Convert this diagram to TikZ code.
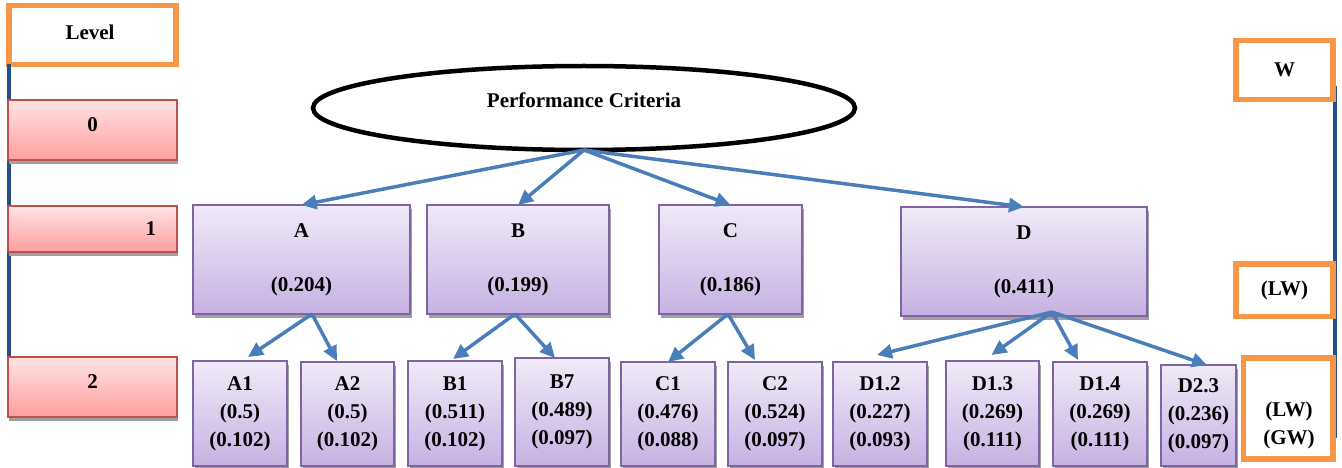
\documentclass[tikz,border=0pt]{standalone}
\usepackage{fontspec}
\setmainfont{Liberation Serif}
\usetikzlibrary{shapes.geometric,arrows.meta,shadows}
\definecolor{orng}{HTML}{F79646}
\definecolor{redb}{HTML}{C0504D}
\definecolor{redt}{HTML}{FFE3E3}
\definecolor{redbot}{HTML}{FF9E9E}
\definecolor{purb}{HTML}{8064A2}
\definecolor{purt}{HTML}{F0EAF8}
\definecolor{purbot}{HTML}{C6B1E2}
\definecolor{arrblue}{HTML}{4A7EBB}
\definecolor{navy}{HTML}{254F86}
\definecolor{shad}{HTML}{A0A0A0}
\tikzset{
  txt/.style={font=\bfseries\fontsize{21}{28}\selectfont},
  redbox/.style={txt, draw=redb, line width=1.5pt, top color=redt, bottom color=redbot,
    minimum width=169pt, inner sep=0pt, outer sep=0pt, anchor=north west,
    drop shadow={shadow xshift=1pt, shadow yshift=-4pt, fill=shad, opacity=1}},
  purbox/.style={txt, draw=purb, line width=1.8pt, top color=purt, bottom color=purbot,
    inner sep=0pt, outer sep=0pt, anchor=north west, align=center,
    drop shadow={shadow xshift=1.5pt, shadow yshift=-3.5pt, fill=shad, opacity=1}},
  orbox/.style={txt, draw=orng, line width=5.5pt, fill=white, inner sep=0pt,
    outer sep=0pt, anchor=north west, align=center},
  arr/.style={draw=arrblue, line width=3.5pt, -{Triangle[length=15pt,width=14pt]}},
  navyline/.style={draw=navy, line width=3.5pt},
}
\begin{document}
\begin{tikzpicture}[x=1pt,y=-1pt]
\useasboundingbox (0,0) rectangle (1342,468);
% right vertical line
\coordinate (rtop) at (1335,86);
\coordinate (rbot) at (1335,438);
\draw[navyline] (rtop) -- (rbot);
% level column
\node[orbox, minimum width=167pt, minimum height=59pt] (lvl) at (9,5.5) {};
\node[txt] (lvlt) at (90,32) {Level};
\draw[navyline] (lvl.south west) -- (lvl.south west |- 0,417);
\node[redbox, minimum height=60pt] (r0) at (8,100) {\raisebox{10pt}{0}};
\node[redbox, minimum height=46pt, text width=127pt, align=right, inner xsep=21pt] (r1) at (8,206) {1};
\node[redbox, minimum height=60pt] (r2) at (8,357) {\raisebox{10pt}{2}};
% root
\node[draw=black, line width=4.5pt, ellipse, fill=white, minimum width=542pt, minimum height=84pt,
  inner sep=0pt, outer sep=0pt, txt] (pc) at (584,108) {\raisebox{16pt}{Performance Criteria}};
% level 1
\node[purbox, minimum width=217pt, minimum height=109pt] (A) at (193,205) {A\\[26pt](0.204)};
\node[purbox, minimum width=182pt, minimum height=109pt] (B) at (427,205) {B\\[26pt](0.199)};
\node[purbox, minimum width=143pt, minimum height=109pt] (C) at (659,205) {C\\[26pt](0.186)};
\node[purbox, minimum width=246pt, minimum height=109pt] (D) at (901,207) {D\\[26pt](0.411)};
% level 2
\node[purbox, minimum width=94pt, minimum height=105pt] (A1) at (193,361) {A1\\(0.5)\\(0.102)};
\node[purbox, minimum width=93pt, minimum height=104pt] (A2) at (301,362) {A2\\(0.5)\\(0.102)};
\node[purbox, minimum width=94pt, minimum height=105pt] (B1) at (408,361) {B1\\(0.511)\\(0.102)};
\node[purbox, minimum width=94pt, minimum height=108pt] (B7) at (515,358) {B7\\(0.489)\\(0.097)};
\node[purbox, minimum width=94pt, minimum height=104pt] (C1) at (621,362) {C1\\(0.476)\\(0.088)};
\node[purbox, minimum width=94pt, minimum height=104pt] (C2) at (728,362) {C2\\(0.524)\\(0.097)};
\node[purbox, minimum width=94pt, minimum height=104pt] (D12) at (833,362) {D1.2\\(0.227)\\(0.093)};
\node[purbox, minimum width=93pt, minimum height=105pt] (D13) at (946,361) {D1.3\\(0.269)\\(0.111)};
\node[purbox, minimum width=94pt, minimum height=104pt] (D14) at (1053,362) {D1.4\\(0.269)\\(0.111)};
\node[purbox, minimum width=75pt, minimum height=101pt] (D23) at (1161,365) {D2.3\\(0.236)\\(0.097)};
% right column
\node[orbox, minimum width=97pt, minimum height=59pt] (W) at (1236,40.5) {W};
\node[orbox, minimum width=97pt, minimum height=52.5pt] (LW) at (1236,264) {(LW)};
\node[orbox, minimum width=89.5pt, minimum height=101pt] (LWGW) at (1243.5,358) {};
\node[txt, align=center] (lwgwt) at (1289,425) {(LW)\\(GW)};
% arrows level 0 -> 1
\draw[arr] (pc.south) -- (A.north);
\draw[arr] (pc.south) -- (B.north);
\draw[arr] (pc.south) -- (C.north);
\draw[arr] (pc.south) -- (D.north);
% arrows level 1 -> 2
\draw[arr] ([xshift=10.5pt]A.south) -- ([xshift=8pt,yshift=4pt]A1.north);
\draw[arr] ([xshift=10.5pt]A.south) -- ([xshift=-10.5pt,yshift=1pt]A2.north);
\draw[arr] ([xshift=-3pt]B.south) -- ([xshift=-2pt,yshift=2pt]B1.north);
\draw[arr] ([xshift=-3pt]B.south) -- ([xshift=-7pt]B7.north);
\draw[arr] ([xshift=-2.5pt]C.south) -- (C1.north);
\draw[arr] ([xshift=-2.5pt]C.south) -- ([xshift=-20pt,yshift=2pt]C2.north);
\draw[arr] ([xshift=28pt,yshift=4pt]D.south) -- ([xshift=-3pt,yshift=7pt]D12.north);
\draw[arr] ([xshift=28pt,yshift=4pt]D.south) -- ([xshift=-1pt,yshift=6pt]D13.north);
\draw[arr] ([xshift=28pt,yshift=4pt]D.south) -- ([xshift=-22pt,yshift=2pt]D14.north);
\draw[arr] ([xshift=28pt,yshift=4pt]D.south) -- ([xshift=8.5pt]D23.north);
\end{tikzpicture}
\end{document}
